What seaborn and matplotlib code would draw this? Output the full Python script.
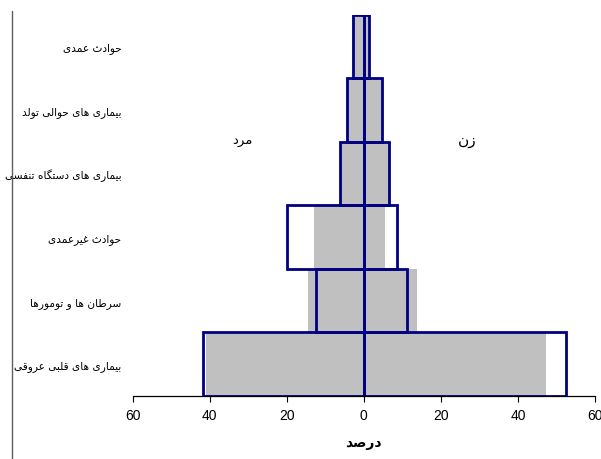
import matplotlib
matplotlib.use("Agg")
import matplotlib.pyplot as plt
import seaborn as sns
import pandas as pd
from matplotlib.ticker import FuncFormatter, FixedLocator
from matplotlib.lines import Line2D

# ---------------- data ----------------
categories = [
    "حوادث عمدی",
    "بیماری های حوالی تولد",
    "بیماری های دستگاه تنفسی",
    "حوادث غیرعمدی",
    "سرطان ها و تومورها",
    "بیماری های قلبی عروقی",
]
# grey filled series (percent)
grey_male = [3.0, 4.6, 6.0, 13.0, 14.6, 41.0]
grey_female = [1.5, 4.8, 6.4, 5.4, 13.8, 47.4]
# navy outlined series (percent)
outline_male = [2.8, 4.5, 6.2, 19.9, 12.3, 41.7]
outline_female = [1.4, 4.7, 6.6, 8.5, 11.2, 52.6]

xticks = [-60, -40, -20, 0, 20, 40, 60]
label_male = "مرد"
label_female = "زن"
xlabel = "درصد"

# ---------------- simple Persian shaping ----------------
FORMS = {
    "ا": ("\uFE8D", "\uFE8E", None, None),
    "ب": ("\uFE8F", "\uFE90", "\uFE91", "\uFE92"),
    "ت": ("\uFE95", "\uFE96", "\uFE97", "\uFE98"),
    "ث": ("\uFE99", "\uFE9A", "\uFE9B", "\uFE9C"),
    "ح": ("\uFEA1", "\uFEA2", "\uFEA3", "\uFEA4"),
    "د": ("\uFEA9", "\uFEAA", None, None),
    "ر": ("\uFEAD", "\uFEAE", None, None),
    "ز": ("\uFEAF", "\uFEB0", None, None),
    "س": ("\uFEB1", "\uFEB2", "\uFEB3", "\uFEB4"),
    "ص": ("\uFEB9", "\uFEBA", "\uFEBB", "\uFEBC"),
    "ط": ("\uFEC1", "\uFEC2", "\uFEC3", "\uFEC4"),
    "ع": ("\uFEC9", "\uFECA", "\uFECB", "\uFECC"),
    "غ": ("\uFECD", "\uFECE", "\uFECF", "\uFED0"),
    "ف": ("\uFED1", "\uFED2", "\uFED3", "\uFED4"),
    "ق": ("\uFED5", "\uFED6", "\uFED7", "\uFED8"),
    "ل": ("\uFEDD", "\uFEDE", "\uFEDF", "\uFEE0"),
    "م": ("\uFEE1", "\uFEE2", "\uFEE3", "\uFEE4"),
    "ن": ("\uFEE5", "\uFEE6", "\uFEE7", "\uFEE8"),
    "ه": ("\uFEE9", "\uFEEA", "\uFEEB", "\uFEEC"),
    "و": ("\uFEED", "\uFEEE", None, None),
    "ی": ("\uFBFC", "\uFBFD", "\uFBFE", "\uFBFF"),
    "گ": ("\uFB92", "\uFB93", "\uFB94", "\uFB95"),
    "ک": ("\uFB8E", "\uFB8F", "\uFB90", "\uFB91"),
}


def dual(c):
    return c in FORMS and FORMS[c][2] is not None


def shape(text):
    out = []
    n = len(text)
    for i, c in enumerate(text):
        if c not in FORMS:
            out.append(c)
            continue
        prev = text[i - 1] if i > 0 else ""
        nxt = text[i + 1] if i < n - 1 else ""
        jp = dual(prev)
        jn = dual(c) and nxt in FORMS
        iso, fin, ini, med = FORMS[c]
        if jp and jn:
            out.append(med)
        elif jp:
            out.append(fin)
        elif jn:
            out.append(ini)
        else:
            out.append(iso)
    return "".join(out)[::-1]


# ---------------- plot ----------------
sns.set_theme(style="white")
plt.rcParams["font.family"] = ["Liberation Sans", "DejaVu Sans"]
plt.rcParams["text.color"] = "black"
plt.rcParams["axes.labelcolor"] = "black"
plt.rcParams["xtick.color"] = "black"
plt.rcParams["ytick.color"] = "black"

fig = plt.figure(figsize=(6.01, 4.60), dpi=100)
ax = fig.add_axes([132.7 / 601, 63 / 460, (595 - 132.7) / 601, (397 - 15.7) / 460])

df = pd.DataFrame({
    "cat": categories,
    "grey_m": [-v for v in grey_male],
    "grey_f": grey_female,
    "out_m": [-v for v in outline_male],
    "out_f": outline_female,
})

for col in ["grey_m", "grey_f"]:
    sns.barplot(data=df, x=col, y="cat", orient="h", color="#c0c0c0",
                saturation=1, width=1.0, linewidth=0, ax=ax, errorbar=None)
for col in ["out_m", "out_f"]:
    sns.barplot(data=df, x=col, y="cat", orient="h", facecolor="none",
                edgecolor="#000080", linewidth=2.0, width=1.0, ax=ax,
                errorbar=None)

ax.set_xlim(-60, 60)
ax.set_ylim(5.5, -0.5)
ax.xaxis.set_major_locator(FixedLocator(xticks))
ax.xaxis.set_major_formatter(FuncFormatter(lambda v, p: f"{abs(v):.0f}"))
ax.set_yticks(range(len(categories)))
ax.set_yticklabels([shape(c) for c in categories], fontsize=7.6,
                   family=["DejaVu Sans"], color="black")
ax.tick_params(axis="y", length=0, pad=8)
ax.tick_params(axis="x", direction="out", length=4, width=0.8,
               color="black", labelcolor="black", labelsize=10, pad=5,
               bottom=True)
for s in ["top", "right", "left"]:
    ax.spines[s].set_visible(False)
ax.spines["bottom"].set_color("black")
ax.spines["bottom"].set_linewidth(0.9)
ax.set_ylabel("")
ax.set_xlabel(shape(xlabel), fontsize=10, fontweight="bold",
              family=["DejaVu Sans"], labelpad=9, color="black")

ax.text(-31.4, 1.46, shape(label_male), fontsize=9.5, ha="center",
        va="center", family=["DejaVu Sans"], color="black")
ax.text(26.7, 1.46, shape(label_female), fontsize=11, ha="center",
        va="center", family=["DejaVu Sans"], color="black")

fig.add_artist(Line2D([12 / 601, 12 / 601], [0, (460 - 12) / 460],
                      transform=fig.transFigure, color="#606060", lw=1.0))

fig.savefig("out.png", dpi=100)
